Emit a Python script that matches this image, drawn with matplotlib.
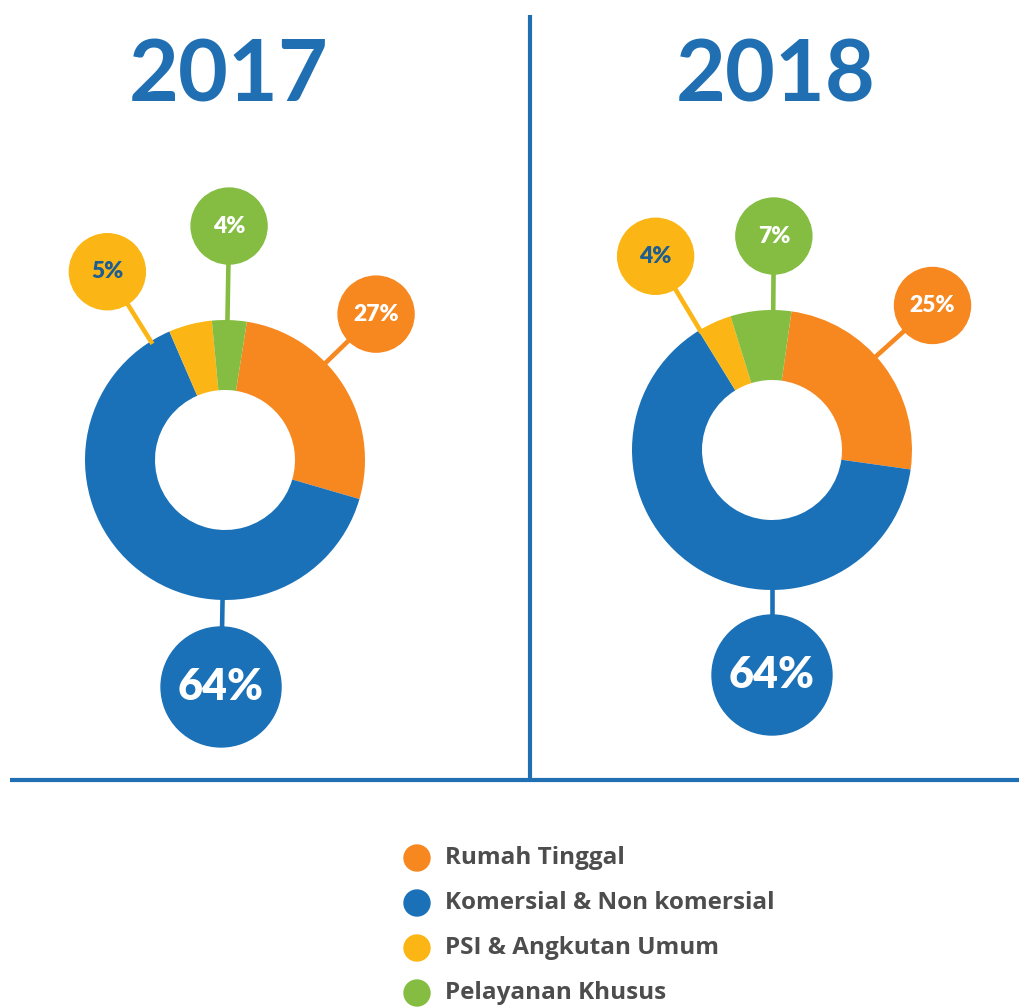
import numpy as np
import matplotlib.pyplot as plt
from matplotlib.patches import Circle

# --- data ---
categories = ['Rumah Tinggal', 'Komersial & Non komersial', 'PSI & Angkutan Umum', 'Pelayanan Khusus']
years = ['2017', '2018']
share_2017 = [27, 64, 5, 4]
share_2018 = [25, 64, 4, 7]

colors = ['#f7871f', '#1a71b8', '#fbb615', '#84bd41']
label_colors = ['white', 'white', '#1d5d8f', 'white']
line_blue = '#1f6fb2'
text_grey = '#4d4d4d'

W, H = 1019, 1007


def Y(y):
    # pixel row (top = 0) to data y
    return H - y


fig = plt.figure(figsize=(W / 100, H / 100), dpi=100)
ax = fig.add_axes([0, 0, 1, 1])

# layout of each donut: centre, callout angles (deg) and distances (px)
panels = [
    dict(year=years[0], values=share_2017, cx=225, cy=460, start=81, title_x=229,
         angles=[44, -91, 122, 89], dists=[210, 227, 222, 234]),
    dict(year=years[1], values=share_2018, cx=772, cy=450, start=82, title_x=776,
         angles=[42, -90, 121, 89.5], dists=[216, 225, 226, 214]),
]
R_OUT, RING = 140, 70

for p in panels:
    cx, cy = p['cx'], Y(p['cy'])
    ax.pie(p['values'], colors=colors, radius=R_OUT, center=(cx, cy),
           startangle=p['start'], counterclock=False,
           wedgeprops=dict(width=RING, edgecolor='none'))
    ax.text(p['title_x'], Y(102), p['year'], ha='center', va='baseline',
            fontsize=62, fontweight='bold', family='Lato', color=line_blue)

    for i, v in enumerate(p['values']):
        a = np.deg2rad(p['angles'][i])
        d = p['dists'][i]
        big = i == 1
        r = 60 if big else 38
        x0, y0 = cx + (R_OUT - 3) * np.cos(a), cy + (R_OUT - 3) * np.sin(a)
        x1, y1 = cx + d * np.cos(a), cy + d * np.sin(a)
        ax.plot([x0, x1], [y0, y1], color=colors[i], lw=3.3, zorder=1,
                solid_capstyle='butt')
        ax.add_patch(Circle((x1, y1), r, color=colors[i], zorder=2))
        ax.text(x1, y1, f'{v}%', ha='center', va='center', zorder=3,
                fontsize=31 if big else 16.5, fontweight='heavy', family='Lato',
                color=label_colors[i])

# divider lines
ax.plot([530, 530], [Y(15), Y(780)], color=line_blue, lw=3, solid_capstyle='butt')
ax.plot([10, W], [Y(780), Y(780)], color=line_blue, lw=3, solid_capstyle='butt')

# legend
for i, name in enumerate(categories):
    yy = Y(858 + i * 45)
    ax.add_patch(Circle((417, yy), 13, color=colors[i]))
    ax.text(445, yy, name, ha='left', va='center', fontsize=17.5,
            fontweight='bold', family='Open Sans', color=text_grey)

ax.set_xlim(0, W)
ax.set_ylim(0, H)
ax.set_aspect('equal')
ax.set_axis_off()

fig.savefig('out.png', dpi=100, facecolor='white')
